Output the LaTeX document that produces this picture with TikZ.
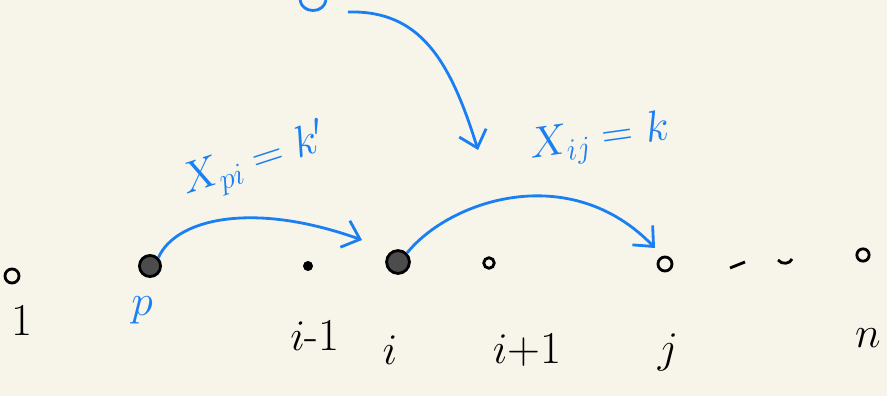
\documentclass[tikz,border=0pt]{standalone}
\usepackage{amsmath,amssymb}
\usepackage{tikz}
\usetikzlibrary{arrows.meta,positioning,calc}
\usepackage{xcolor}
\definecolor{paper}{HTML}{F7F5EA}
\definecolor{ink}{HTML}{1A7FF2}

\tikzset{
  pt/.style={circle, draw=black, line width=1.6pt, inner sep=0pt},
  lbl/.style={font=\fontsize{26}{30}\selectfont, text=black},
  link/.style={ink, line width=1.6pt, -{Straight Barb[length=9pt,width=16pt,line width=1.6pt]}}
}

\begin{document}
\begin{tikzpicture}[x=0.02cm, y=-0.02cm]
    % 背景
    \fill[paper] (0,0) rectangle (887,396);
    \useasboundingbox (0,0) rectangle (887,396);

    % 点
    \node[pt, minimum size=8pt] (d1) at (12,276) {};
    \node[pt, minimum size=12pt, fill=black!70] (dp) at (150,266) {};
    \node[pt, minimum size=4pt, fill=black] (dim) at (308,266) {};
    \node[pt, minimum size=13pt, fill=black!70] (di) at (398,262) {};
    \node[pt, minimum size=6pt] (dip) at (489,263) {};
    \node[pt, minimum size=8pt] (dj) at (665,264) {};
    \node[pt, minimum size=7pt] (dn) at (863,255) {};
    \draw[black, line width=1.6pt] (730,268) -- (745,262);
    \draw[black, line width=1.6pt] (778,260) .. controls (782,265) and (790,264) .. (792,259);

    % 标注
    \node[lbl] (l1) at (22,320) {1};
    \node[lbl, text=ink] (lp) at (142,310) {$p$};
    \node[lbl] (lim) at (315,335) {$i$-1};
    \node[lbl] (li) at (390,350) {$i$};
    \node[lbl] (lip) at (527,350) {$i$+1};
    \node[lbl] (lj) at (668,352) {$j$};
    \node[lbl] (ln) at (868,338) {$n$};

    % 弧线
    \draw[link] (dp.north east) .. controls (175,220) and (250,200) .. (362,240);
    \draw[link] (di.north east) .. controls (450,200) and (570,160) .. (655,248);
    \coordinate (top) at (348,12);
    \draw[link] (top) .. controls (420,10) and (450,60) .. (478,150);
    \draw[ink, line width=1.6pt] (300,0) .. controls (302,14) and (324,14) .. (326,0);

    % 公式
    \node[lbl, text=ink, rotate=18] (xpi) at (255,162) {$X_{pi}=k'$};
    \node[lbl, text=ink, rotate=8] (xij) at (600,140) {$X_{ij}=k$};
\end{tikzpicture}
\end{document}
